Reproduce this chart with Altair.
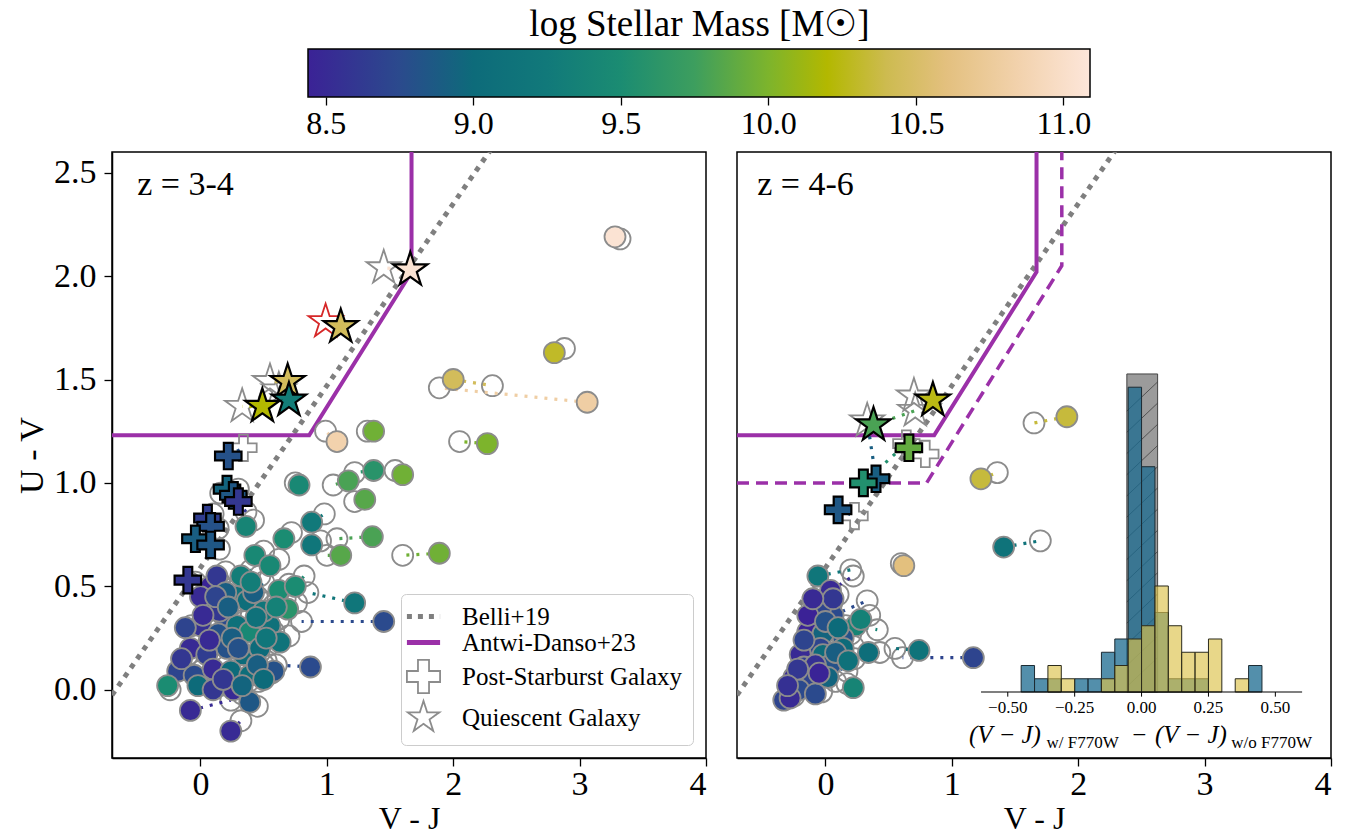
import altair as alt
import pandas as pd

FONT = "Liberation Serif, Times New Roman, DejaVu Serif, serif"

# ---------------- colour map (log stellar mass) ----------------
CMAP_V = [8.44, 8.75, 9.0, 9.25, 9.5, 9.75, 10.0, 10.2, 10.4, 10.6, 10.85, 11.09]
CMAP_C = ["#3b2296", "#2b4a8d", "#0d6b7a", "#11797a", "#1b8c72", "#3d9e5e",
          "#7db42c", "#b3b800", "#cdbb50", "#e3c07e", "#f2d2ad", "#fde6da"]
CB_LO, CB_HI = 8.44, 11.09
CB_TICKS = [8.5, 9.0, 9.5, 10.0, 10.5, 11.0]

XDOM = [-0.7, 4.0]
YDOM = [-0.33, 2.6]

# ---------------- selection lines ----------------
BELLI_X = [-0.7, 2.35]
BELLI_Y = [-0.026, 2.658]
AD_X = [-0.7, 0.86, 1.67, 1.67]
AD_Y = [1.23, 1.23, 2.02, 2.7]
AD2_X = [-0.7, 0.80, 1.87, 1.87]
AD2_Y = [1.0, 1.0, 2.05, 2.7]

# ---------------- z = 3-4 galaxies ----------------
L_XW = [1.66, 1.11, 0.69, 0.70, 0.49, 0.22, 0.21, 0.26, 0.30, 0.055, 0.08, -0.04, 0.08, -0.10,
        3.28, 2.80, 2.00, 3.06, 2.27, 1.60, 1.89, 1.08, 1.37, 1.37, 1.17, 1.30, 0.78, 1.36, 1.11,
        1.22, 1.45, 0.87, -0.08, 0.24, 0.88, 0.88, 0.66, 0.36, 0.69, 0.62, 0.43, 0.55, 0.75,
        0.08, 0.13, 0.29, 0.05, 0.18, 0.37, 0.42, 0.00, 0.14, 0.29, 0.39, 0.55, 0.63, -0.08,
        0.05, 0.21, 0.34, 0.47, -0.18, -0.05, 0.10, 0.24, 0.39, 0.58, -0.26, -0.02, 0.26, 0.39,
        0.00, 0.15, 0.25, 0.45, 0.10, 0.50, -0.12, 0.32, 0.20,
        0.02, 0.12, 0.22, 0.30, 0.44, 0.18, 0.33, 0.50, -0.15, 0.07, 0.40, 0.52, 0.60]
L_YW = [2.03, 1.755, 1.49, 1.40, 1.37, 1.13, 0.97, 0.94, 0.91, 0.83, 0.79, 0.73, 0.70, 0.53,
        2.19, 1.63, 1.50, 1.39, 1.19, 1.04, 0.66, 1.20, 1.25, 1.06, 1.01, 0.92, 0.99, 0.74, 0.65,
        0.42, 0.33, 0.11, -0.10, -0.20, 0.81, 0.70, 0.73, 0.79, 0.39, 0.48, 0.65, 0.60, 0.50,
        0.50, 0.55, 0.45, 0.41, 0.36, 0.43, 0.47, 0.31, 0.27, 0.31, 0.28, 0.31, 0.23, 0.20,
        0.17, 0.20, 0.17, 0.20, 0.09, 0.07, 0.10, 0.09, 0.07, 0.09, 0.02, 0.02, 0.00, -0.06,
        0.45, 0.38, 0.25, 0.12, 0.00, 0.38, 0.30, 0.55, 0.47,
        0.36, 0.45, 0.40, 0.20, 0.35, 0.05, 0.02, 0.05, 0.15, 0.24, 0.52, 0.25, 0.40]
L_XO = [1.45, 0.99, 0.55, 0.62, 0.33, 0.34, 0.16, 0.30, 0.36, 0.10, 0.14, 0.02, 0.15, -0.04,
        3.32, 2.88, 2.31, 1.89, 2.05, 1.54, 1.60, 0.99, 1.32, 1.22, 1.05, 1.22, 0.75, 1.08, 1.00,
        0.85, 0.80, 0.60, 0.24, 0.32, 0.98, 0.95, 0.72, 0.42, 0.76, 0.70, 0.50, 0.62, 0.82,
        0.15, 0.20, 0.38, 0.10, 0.24, 0.45, 0.50, 0.05, 0.20, 0.35, 0.48, 0.62, 0.70, -0.03,
        0.10, 0.27, 0.40, 0.55, -0.14, 0.00, 0.16, 0.30, 0.46, 0.50, -0.24, 0.04, 0.33, 0.45,
        0.04, 0.20, 0.30, 0.52, 0.15, 0.58, -0.07, 0.40, 0.26,
        0.06, 0.17, 0.28, 0.36, 0.50, 0.23, 0.38, 0.56, -0.11, 0.12, 0.47, 0.58, 0.67]
L_YO = [2.04, 1.78, 1.49, 1.45, 1.37, 1.17, 0.95, 0.97, 0.86, 0.85, 0.78, 0.74, 0.68, 0.52,
        2.18, 1.65, 1.47, 1.46, 1.20, 1.06, 0.65, 1.25, 1.25, 1.05, 0.99, 0.91, 1.00, 0.73, 0.65,
        0.47, 0.33, 0.12, -0.05, -0.15, 0.85, 0.72, 0.76, 0.82, 0.42, 0.51, 0.67, 0.63, 0.55,
        0.52, 0.57, 0.50, 0.44, 0.38, 0.45, 0.52, 0.33, 0.30, 0.33, 0.30, 0.34, 0.26, 0.22,
        0.19, 0.22, 0.19, 0.22, 0.10, 0.09, 0.12, 0.11, 0.04, 0.12, 0.00, 0.03, -0.02, -0.08,
        0.47, 0.41, 0.27, 0.14, 0.02, 0.41, 0.31, 0.58, 0.49,
        0.38, 0.47, 0.43, 0.22, 0.38, 0.07, 0.04, 0.08, 0.16, 0.26, 0.55, 0.28, 0.44]
L_M = [11.05, 10.45, 10.45, 9.3, 10.2, 8.8, 8.95, 8.85, 8.6, 8.65, 8.8, 8.9, 8.85, 8.6,
       11.05, 10.3, 10.45, 10.8, 10.0, 9.95, 9.95, 10.85, 9.95, 9.6, 9.8, 9.85, 9.45, 9.8, 9.85,
       9.2, 8.75, 8.75, 8.5, 8.5, 9.25, 9.2, 9.5, 9.4, 9.6, 9.5, 9.45, 9.45, 9.5,
       8.45, 8.6, 9.1, 8.8, 8.75, 9.05, 8.9, 8.55, 8.8, 9.1, 9.45, 9.1, 9.15, 8.5,
       8.65, 8.8, 9.0, 9.0, 8.7, 8.75, 8.5, 9.0, 9.05, 8.8, 9.5, 9.0, 8.5, 8.85,
       8.5, 8.6, 8.9, 8.9, 8.6, 9.2, 8.7, 9.3, 8.9,
       8.5, 8.7, 8.9, 8.8, 9.1, 8.6, 8.95, 9.0, 8.6, 8.5, 9.3, 9.2, 9.35]
L_KW = ["q"] * 5 + ["p"] * 9 + ["c"] * (len(L_XW) - 14)
L_KO = ["q", "qr", "q", "q", "q", "p"] + ["c"] * (len(L_XW) - 6)

# ---------------- z = 4-6 galaxies ----------------
R_XW = [0.85, 0.38, 0.40, 0.66, 0.30, 0.10, 1.91, 1.23, 1.41, 0.62, 1.17, 0.74, 0.22, -0.06,
        0.04, 0.06, -0.04, 0.24, 0.28, -0.14, 0.14, -0.02, -0.04, -0.20, 0.14, 0.34, -0.02,
        -0.17, 0.04, -0.25, -0.12, 0.02, -0.21, -0.33, -0.28, -0.14, -0.17, 0.06, -0.08,
        -0.10, 0.00, 0.10, -0.22, -0.08, 0.08, -0.30, 0.18, -0.05]
R_YW = [1.40, 1.28, 1.02, 1.17, 1.00, 0.87, 1.32, 1.02, 0.69, 0.60, 0.155, 0.19, 0.01, 0.55,
        0.48, 0.36, 0.39, 0.31, 0.34, 0.28, 0.25, 0.27, 0.20, 0.17, 0.20, 0.18, 0.17,
        0.11, 0.12, 0.06, 0.05, 0.06, 0.00, -0.05, -0.04, 0.36, 0.24, 0.44, 0.12,
        0.44, 0.33, 0.30, 0.10, -0.02, 0.18, 0.02, 0.14, 0.08]
R_XO = [0.70, 0.71, 0.33, 0.79, 0.64, 0.23, 1.65, 1.36, 1.70, 0.60, 0.61, 0.55, 0.17, 0.20,
        0.22, 0.33, 0.05, 0.41, 0.35, -0.08, 0.20, 0.05, 0.02, -0.14, 0.22, 0.43, 0.05,
        -0.10, 0.17, -0.20, -0.06, 0.08, -0.16, -0.30, -0.25, -0.10, -0.12, 0.10, -0.03,
        -0.05, 0.05, 0.16, -0.17, -0.03, 0.13, -0.26, 0.23, 0.00]
R_YO = [1.42, 1.35, 1.30, 1.14, 1.19, 0.84, 1.29, 1.05, 0.72, 0.61, 0.155, 0.20, 0.03, 0.58,
        0.55, 0.43, 0.42, 0.29, 0.36, 0.30, 0.27, 0.28, 0.22, 0.18, 0.21, 0.18, 0.15,
        0.12, 0.09, 0.05, 0.06, 0.04, 0.01, -0.04, -0.03, 0.37, 0.25, 0.46, 0.13,
        0.45, 0.34, 0.31, 0.11, -0.01, 0.19, 0.03, 0.15, 0.09]
R_M = [10.25, 9.8, 8.9, 9.9, 9.55, 8.85, 10.35, 10.35, 9.15, 10.6, 8.7, 9.15, 9.4, 9.2,
       8.5, 8.75, 8.7, 9.4, 9.35, 8.45, 8.8, 8.95, 8.7, 8.5, 9.0, 9.05, 9.0,
       8.65, 8.8, 8.5, 8.7, 8.95, 8.75, 8.7, 8.5, 8.4, 8.7, 8.6, 8.55,
       8.5, 8.8, 9.0, 8.6, 8.75, 8.9, 8.55, 9.1, 8.45]
R_KW = ["q", "q", "p", "p", "p", "p"] + ["c"] * (len(R_XW) - 6)
R_KO = ["q", "q", "q", "p", "p", "p"] + ["c"] * (len(R_XW) - 6)

# ---------------- inset histogram ----------------
HIST_EDGES = [-0.45, -0.40, -0.35, -0.30, -0.25, -0.20, -0.15, -0.10, -0.05, 0.0,
              0.05, 0.10, 0.15, 0.20, 0.25, 0.30, 0.35, 0.40, 0.45]
HIST_BLUE = [2, 1, 1, 0, 1, 1, 3, 4, 23, 17, 6, 1, 1, 1, 0, 0, 0, 2]
HIST_YELLOW = [0, 0, 2, 1, 0, 0, 1, 2, 4, 5, 8, 5, 3, 3, 4, 0, 1, 0]
SPAN_LO, SPAN_HI, SPAN_TOP = -0.055, 0.06, 24
INSET_TICKS = [-0.5, -0.25, 0.0, 0.25, 0.5]
INSET_TICK_LABELS = ["\u22120.50", "\u22120.25", "0.00", "0.25", "0.50"]
INSET_XRANGE = [-0.6, 0.6]

LEGEND_ITEMS = ["Belli+19", "Antwi-Danso+23", "Post-Starburst Galaxy", "Quiescent Galaxy"]

STAR = ("M0,-1L0.2245,-0.309L0.951,-0.309L0.363,0.118L0.588,0.809L0,0.382"
        "L-0.588,0.809L-0.363,0.118L-0.951,-0.309L-0.2245,-0.309Z")
PLUS = "M-0.333,-1H0.333V-0.333H1V0.333H0.333V1H-0.333V0.333H-1V-0.333H-0.333Z"

PURPLE = "#9b30a8"
GRAYL = "#7f7f7f"
EDGE = "#8c8c8c"

xs = alt.Scale(domain=XDOM, nice=False, zero=False)
ys = alt.Scale(domain=YDOM, nice=False, zero=False)
cs = alt.Scale(domain=CMAP_V, range=CMAP_C, interpolate="rgb", clamp=True)

XAX = alt.Axis(values=[0, 1, 2, 3, 4], format="d", title="V - J", labelPadding=1, titlePadding=2,
               titleFontSize=32)
YAX = alt.Axis(values=[0, 0.5, 1.0, 1.5, 2.0, 2.5], format=".1f", title="U - V",
               labelPadding=8, titlePadding=4)

PW, PH = 594, 606


def gal_df(xw, yw, xo, yo, m, kw, ko):
    return pd.DataFrame(dict(gid=list(range(len(xw))), xw=xw, yw=yw, xo=xo, yo=yo,
                             mass=m, kw=kw, ko=ko))


def conn_df(df):
    a = df[["gid", "xw", "yw", "mass"]].rename(columns={"xw": "x", "yw": "y"}).assign(k=0)
    b = df[["gid", "xo", "yo", "mass"]].rename(columns={"xo": "x", "yo": "y"}).assign(k=1)
    return pd.concat([a, b], ignore_index=True)


def line_df(xv, yv):
    return pd.DataFrame(dict(x=xv, y=yv, i=list(range(len(xv)))))


def panel(df, label, label_x, yaxis, dashed, legend):
    X = lambda f: alt.X(f"{f}:Q", scale=xs, axis=XAX)
    Y = lambda f: alt.Y(f"{f}:Q", scale=ys, axis=yaxis)
    layers = []
    layers.append(alt.Chart(line_df(BELLI_X, BELLI_Y)).mark_line(
        color=GRAYL, strokeWidth=5, strokeDash=[5, 6], clip=True).encode(
        x=X("x"), y=Y("y"), order="i:O"))
    layers.append(alt.Chart(line_df(AD_X, AD_Y)).mark_line(
        color=PURPLE, strokeWidth=4, clip=True).encode(x=X("x"), y=Y("y"), order="i:O"))
    if dashed:
        layers.append(alt.Chart(line_df(AD2_X, AD2_Y)).mark_line(
            color=PURPLE, strokeWidth=3.5, strokeDash=[12, 7], clip=True).encode(
            x=X("x"), y=Y("y"), order="i:O"))
    for kind, shape, size, col in [("c", "circle", 441, EDGE), ("p", PLUS, 700, EDGE),
                                   ("q", STAR, 1300, EDGE), ("qr", STAR, 1300, "#d62728")]:
        layers.append(alt.Chart(df).transform_filter(alt.datum.ko == kind).mark_point(
            shape=shape, size=size, filled=False, stroke=col, strokeWidth=1.8, opacity=1,
            clip=True).encode(x=X("xo"), y=Y("yo")))
    layers.append(alt.Chart(conn_df(df)).mark_line(
        strokeWidth=3.2, strokeDash=[3, 7], clip=True).encode(
        x=X("x"), y=Y("y"), detail="gid:N", order="k:O",
        color=alt.Color("mass:Q", scale=cs, legend=None)))
    for kind, shape, size, col, sw in [("c", "circle", 441, EDGE, 1.8), ("p", PLUS, 700, "black", 2.2),
                                       ("q", STAR, 1300, "black", 2.2)]:
        layers.append(alt.Chart(df).transform_filter(alt.datum.kw == kind).mark_point(
            shape=shape, size=size, filled=True, stroke=col, strokeWidth=sw, opacity=1,
            clip=True).encode(x=X("xw"), y=Y("yw"),
                              color=alt.Color("mass:Q", scale=cs, legend=None)))
    layers.append(alt.Chart(pd.DataFrame(dict(x=[label_x], y=[2.39], t=[label]))).mark_text(
        align="left", baseline="alphabetic", fontSize=34, font=FONT, color="black").encode(
        x=X("x"), y=Y("y"), text="t:N"))
    if legend:
        big = "indexof(['Belli+19','Antwi-Danso+23'], datum.value) >= 0"
        leg = alt.Legend(
            title=None, orient="bottom-right", offset=13, padding=10,
            fillColor="white", strokeColor="#cccccc", cornerRadius=5,
            labelFont=FONT, labelFontSize=25, labelColor="black", labelOffset=26, labelLimit=400,
            symbolSize=1100, rowPadding=0,
            symbolStrokeWidth=alt.ExprRef(f"{big} ? 5 : 1.8"))
        ldf = pd.DataFrame(dict(item=LEGEND_ITEMS, x=[-9.0] * 4, y=[-9.0] * 4))
        layers.append(alt.Chart(ldf).mark_point(filled=False, opacity=1, clip=True).encode(
            x=X("x"), y=Y("y"),
            shape=alt.Shape("item:N", scale=alt.Scale(domain=LEGEND_ITEMS,
                                                     range=["stroke", "stroke", PLUS, STAR]), legend=leg),
            stroke=alt.Stroke("item:N", scale=alt.Scale(domain=LEGEND_ITEMS,
                                                       range=[GRAYL, PURPLE, EDGE, EDGE]), legend=leg),
            strokeDash=alt.StrokeDash("item:N", scale=alt.Scale(domain=LEGEND_ITEMS,
                                      range=[[5, 6], [1, 0], [1, 0], [1, 0]]), legend=leg)))
    return alt.layer(*layers)


left_df = gal_df(L_XW, L_YW, L_XO, L_YO, L_M, L_KW, L_KO)
right_df = gal_df(R_XW, R_YW, R_XO, R_YO, R_M, R_KW, R_KO)

left = panel(left_df, "z = 3-4", -0.5, YAX, False, True).properties(width=PW, height=PH)
right_main = panel(right_df, "z = 4-6", -0.54, None, True, False)

# ---------------- inset ----------------
ixs = alt.Scale(domain=[-1.512, 0.708], nice=False, zero=False)
iys = alt.Scale(domain=[-4.98, 40.75], nice=False, zero=False)
IX = lambda f: alt.X(f"{f}:Q", scale=ixs, axis=None)
IY = lambda f: alt.Y(f"{f}:Q", scale=iys, axis=None)

hb = pd.DataFrame(dict(lo=HIST_EDGES[:-1], hi=HIST_EDGES[1:], nb=HIST_BLUE, ny=HIST_YELLOW, z=[0] * len(HIST_BLUE)))
span = alt.Chart(pd.DataFrame(dict(lo=[SPAN_LO], hi=[SPAN_HI], b=[0], t=[SPAN_TOP]))).mark_rect(
    fill="#9b9b9b", stroke="#444444", strokeWidth=1).encode(x=IX("lo"), x2="hi:Q", y=IY("b"), y2="t:Q")
# hatch pattern of the shaded span (decoration)
hy = [0.4 + 1.6 * k for k in range(14)]
hatch_df = pd.DataFrame(dict(x0=[SPAN_LO] * len(hy), x1=[SPAN_HI] * len(hy), y0=hy,
                             y1=[v + 2.2 for v in hy]))
hatch_df = hatch_df[hatch_df.y1 <= SPAN_TOP]
hatch = alt.Chart(hatch_df).mark_rule(color="#333333", strokeWidth=1, opacity=0.7).encode(
    x=IX("x0"), x2="x1:Q", y=IY("y0"), y2="y1:Q")
blue = alt.Chart(hb).transform_filter(alt.datum.nb > 0).mark_rect(
    fill="#1a6a8f", fillOpacity=0.75, stroke="#1c2b33", strokeWidth=1).encode(
    x=IX("lo"), x2="hi:Q", y=IY("z"), y2="nb:Q")
yel = alt.Chart(hb).transform_filter(alt.datum.ny > 0).mark_rect(
    fill="#dcc24a", fillOpacity=0.65, stroke="#2b2b1c", strokeWidth=1).encode(
    x=IX("lo"), x2="hi:Q", y=IY("z"), y2="ny:Q")
iaxis = alt.Chart(pd.DataFrame(dict(a=[INSET_XRANGE[0]], b=[INSET_XRANGE[1]], y=[0]))).mark_rule(
    color="black", strokeWidth=1.2).encode(x=IX("a"), x2="b:Q", y=IY("y"))
itick_df = pd.DataFrame(dict(x=INSET_TICKS, y0=[0] * 5, y1=[-0.35] * 5, ly=[-0.6] * 5, t=INSET_TICK_LABELS))
iticks = alt.Chart(itick_df).mark_rule(color="black", strokeWidth=1).encode(
    x=IX("x"), y=IY("y0"), y2="y1:Q")
ilabels = alt.Chart(itick_df).mark_text(baseline="top", fontSize=17, font=FONT, color="black").encode(
    x=IX("x"), y=IY("ly"), text="t:N")
main_seg = pd.DataFrame(dict(x=[-0.645, -0.035, 0.05], y=[-3.85] * 3,
                             t=["(V \u2212 J)", "\u2212", "(V \u2212 J)"], it=["italic", "normal", "italic"]))
sub_seg = pd.DataFrame(dict(x=[-0.355, 0.335], y=[-4.2] * 2, t=["w/ F770W", "w/o F770W"]))
ititle1 = alt.Chart(main_seg).transform_filter(alt.datum.it == "italic").mark_text(
    align="left", baseline="alphabetic", fontSize=25, font=FONT, fontStyle="italic", color="black").encode(
    x=IX("x"), y=IY("y"), text="t:N")
ititle2 = alt.Chart(main_seg).transform_filter(alt.datum.it == "normal").mark_text(
    align="left", baseline="alphabetic", fontSize=25, font=FONT, color="black").encode(
    x=IX("x"), y=IY("y"), text="t:N")
ititle3 = alt.Chart(sub_seg).mark_text(
    align="left", baseline="alphabetic", fontSize=17, font=FONT, color="black").encode(
    x=IX("x"), y=IY("y"), text="t:N")
inset = alt.layer(span, hatch, blue, yel, iaxis, iticks, ilabels, ititle1, ititle2, ititle3)

right = alt.layer(right_main, inset).resolve_scale(x="independent", y="independent").properties(
    width=PW, height=PH)

panels = alt.hconcat(left, right, spacing=31, bounds="flush").resolve_scale(
    color="independent", shape="independent", stroke="independent", strokeDash="independent")

# ---------------- colour bar ----------------
CBW = 1219
span_px = (CB_HI - CB_LO) / 782.0
cb_dom = [CB_LO - 196 * span_px, CB_LO + (CBW - 196) * span_px]
grad = {"gradient": "linear", "x1": 0, "x2": 1, "y1": 0, "y2": 0,
        "stops": [{"offset": (v - CB_LO) / (CB_HI - CB_LO), "color": c} for v, c in zip(CMAP_V, CMAP_C)]}
cbar = alt.Chart(pd.DataFrame(dict(lo=[CB_LO], hi=[CB_HI]))).mark_rect(
    fill=grad, stroke="black", strokeWidth=1.5).encode(
    x=alt.X("lo:Q", scale=alt.Scale(domain=cb_dom, nice=False, zero=False),
            axis=alt.Axis(values=CB_TICKS, format=".1f", title=None, domain=False, grid=False,
                          tickSize=8, labelFontSize=32, labelPadding=3, labelFont=FONT)),
    x2="hi:Q").properties(
    width=CBW, height=48, view=alt.ViewBackground(strokeWidth=0),
    title=alt.TitleParams("log Stellar Mass [M\u2609]", fontSize=37, font=FONT, fontWeight="normal",
                          anchor="middle", frame="group", dx=-22, offset=4, color="black"))

chart = alt.vconcat(cbar, panels, spacing=55, bounds="flush").configure(
    font=FONT, padding={"left": 14, "top": 6, "right": 5, "bottom": 0}, background="white").configure_axis(
    labelFont=FONT, titleFont=FONT, labelFontSize=34, titleFontSize=34, titleFontWeight="normal",
    labelColor="black", titleColor="black", tickColor="black", domainColor="black",
    tickSize=8, tickWidth=1.3, domainWidth=1.5, grid=False).configure_view(
    stroke="black", strokeWidth=1.5)

chart.save("out.html", embed_options={"renderer": "svg", "actions": False})
